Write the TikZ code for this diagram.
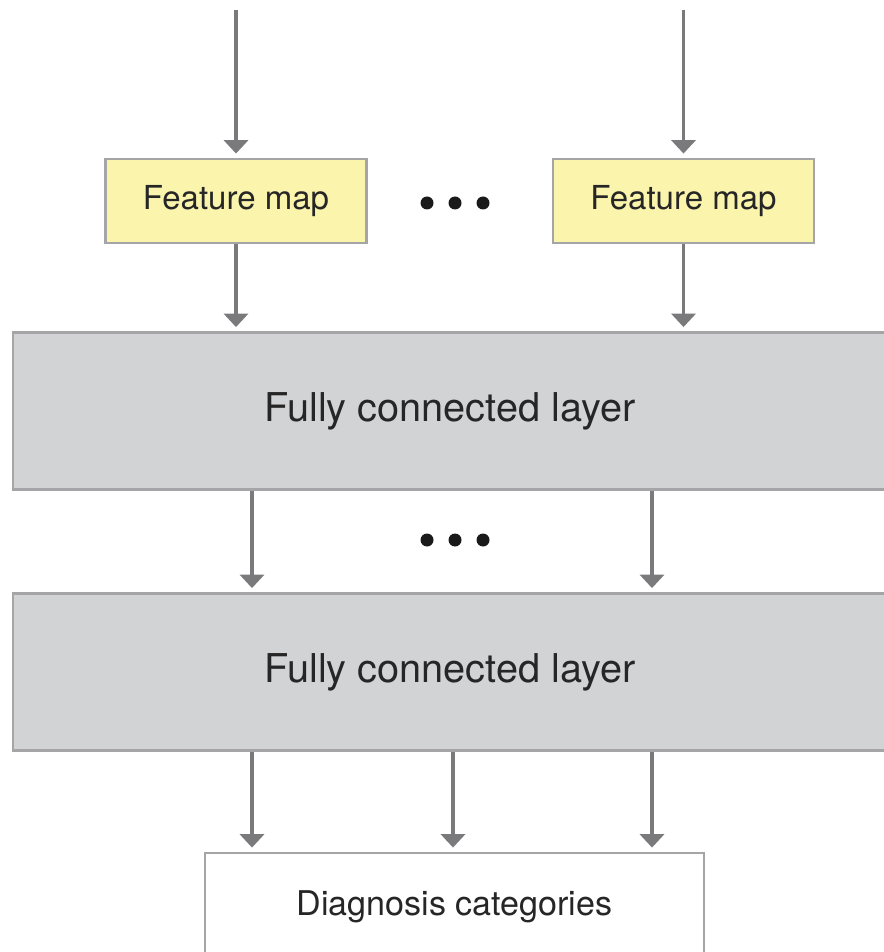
\documentclass[tikz,border=0pt]{standalone}
\usepackage{fontspec}
\setmainfont{TeX Gyre Heros}
\usetikzlibrary{arrows.meta}
\definecolor{mapyellow}{RGB}{250,244,172}
\definecolor{layergray}{RGB}{210,211,213}
\definecolor{edgegray}{RGB}{165,165,167}
\definecolor{arrowgray}{RGB}{122,122,124}
\definecolor{dotblack}{RGB}{26,26,26}
\tikzset{
    mapbox/.style = {draw=edgegray, fill=mapyellow, line width=1.6pt,
        minimum width=5.22cm, minimum height=1.68cm,
        font=\fontsize{18.8}{22}\selectfont, text=black!85},
    layerbox/.style = {draw=edgegray, fill=layergray, line width=1.6pt,
        minimum width=17.48cm, minimum height=3.14cm,
        font=\fontsize{22.6}{26}\selectfont, text=black!85},
    outbox/.style = {draw=edgegray, fill=white, line width=1.6pt,
        minimum width=9.98cm, minimum height=2.14cm,
        font=\fontsize{19.4}{22}\selectfont, text=black!85},
    flow/.style = {draw=arrowgray, line width=1.9pt,
        -{Triangle[width=13.6pt,length=7.6pt]}, shorten >=2.3pt}
}
\begin{document}
\begin{tikzpicture}[x=0.02cm, y=-0.02cm]
    \useasboundingbox (0,0) rectangle (884,952);

    % boxes
    \node[mapbox] (fm1) at (236,201) {\raisebox{-1.5pt}{Feature map}};
    \node[mapbox] (fm2) at (683.5,201) {\raisebox{-1.5pt}{Feature map}};
    \node[layerbox] (fc1) at (450,411) {\raisebox{-1.5pt}{Fully connected layer}};
    \node[layerbox] (fc2) at (450,672) {\raisebox{-1.5pt}{Fully connected layer}};
    \node[outbox] (out) at (454.5,906.5) {\raisebox{-1.5pt}{Diagnosis categories}};

    % free ends and columns
    \coordinate (in1) at (236,10);
    \coordinate (in2) at (683.5,10);
    \coordinate (c1) at (252,0);
    \coordinate (c2) at (453,0);
    \coordinate (c3) at (652,0);

    % arrows
    \draw[flow] (in1) -- (fm1.north);
    \draw[flow] (in2) -- (fm2.north);
    \draw[flow] (fm1.south) -- (fm1.south |- fc1.north);
    \draw[flow] (fm2.south) -- (fm2.south |- fc1.north);
    \draw[flow] (fc1.south -| c1) -- (fc2.north -| c1);
    \draw[flow] (fc1.south -| c3) -- (fc2.north -| c3);
    \draw[flow] (fc2.south -| c1) -- (out.north -| c1);
    \draw[flow] (fc2.south -| c2) -- (out.north -| c2);
    \draw[flow] (fc2.south -| c3) -- (out.north -| c3);

    % dots
    \fill[dotblack] (427,203) circle (6.5);
    \fill[dotblack] (455,203) circle (6.5);
    \fill[dotblack] (483,203) circle (6.5);
    \fill[dotblack] (427,540) circle (6.5);
    \fill[dotblack] (455,540) circle (6.5);
    \fill[dotblack] (483,540) circle (6.5);
\end{tikzpicture}
\end{document}
